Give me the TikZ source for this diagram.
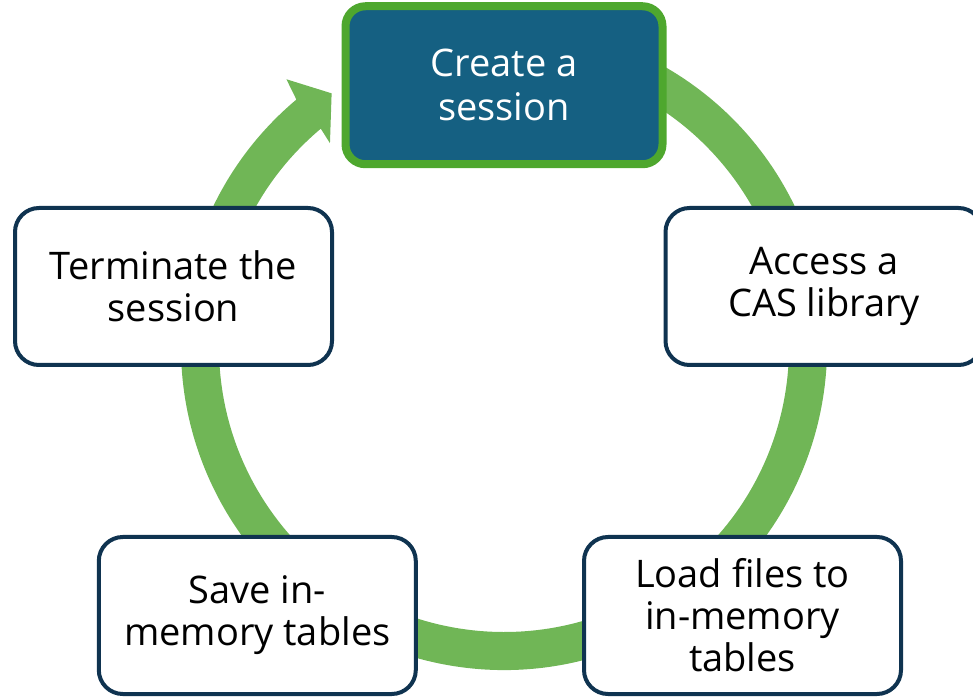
\documentclass[tikz,border=0pt]{standalone}
\usepackage{fontspec}
\setmainfont{Open Sans}
\definecolor{ringgreen}{HTML}{70B656}
\definecolor{framegreen}{HTML}{4EA72E}
\definecolor{deepblue}{HTML}{156082}
\definecolor{navyline}{HTML}{0F3350}
\begin{document}
\begin{tikzpicture}[x=1pt,y=1pt,
  stepbox/.style={rectangle, rounded corners=24pt, minimum width=317pt,
    minimum height=157pt, inner sep=0pt, draw=navyline, line width=4pt,
    fill=white, align=center, text=black,
    font=\fontsize{38}{42}\selectfont},
  startbox/.style={stepbox, draw=framegreen, line width=8pt, fill=deepblue,
    text=white, rounded corners=20pt, minimum height=158pt,
    font=\fontsize{38}{44}\selectfont}]
\useasboundingbox (0,0) rectangle (973,698);
% the cycle ring, ending in an arrow head that points at the first step
\fill[ringgreen, shift={(504,351)}]
  (115:323) arc[start angle=115, end angle=-230, radius=323]
  -- (-230.9:345) -- (-235.8:306.7) -- (-229.5:268) -- (-230:285)
  arc[start angle=-230, end angle=115, radius=285] -- cycle;
% the steps
\node[startbox] (create) at (504,612.75) {Create a\\session};
\node[stepbox] (access) at (824,411.5) {Access a\\CAS library};
\node[stepbox] (load) at (742.5,82.5) {Load files to\\in-memory\\tables};
\node[stepbox] (save) at (257.3,82.5) {Save in-\\memory tables};
\node[stepbox] (term) at (173.5,411.5) {Terminate the\\session};
\end{tikzpicture}
\end{document}
